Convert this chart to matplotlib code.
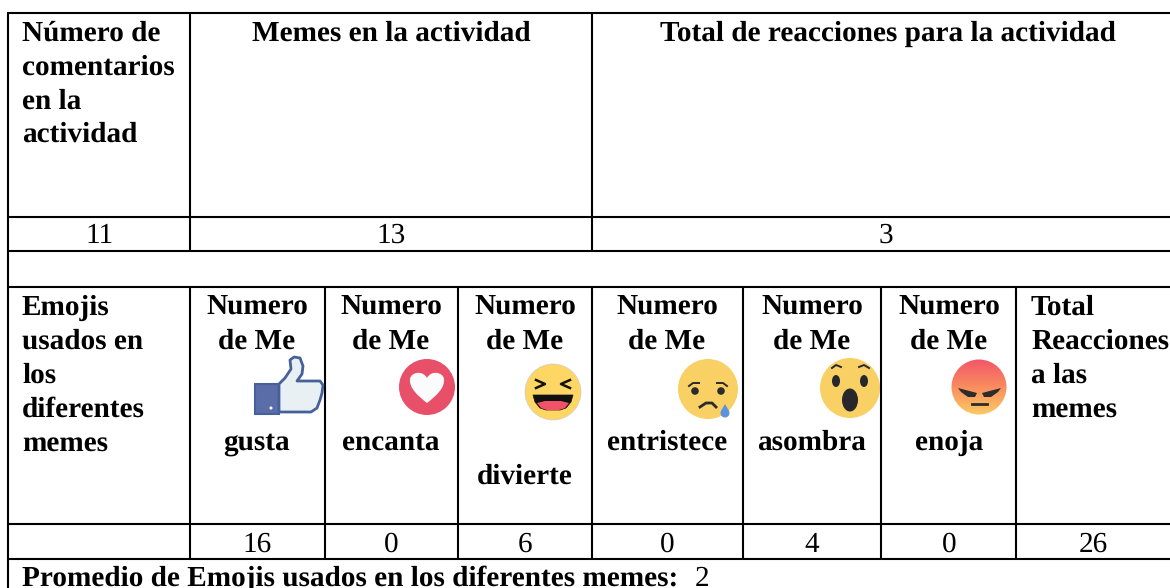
import matplotlib
matplotlib.use('Agg')
import matplotlib.pyplot as plt
from matplotlib.patches import Circle, Polygon, Ellipse, PathPatch
from matplotlib.path import Path
import numpy as np

plt.rcParams['font.family'] = ['Liberation Serif', 'DejaVu Serif']
plt.rcParams['text.hinting'] = 'no_hinting'
plt.rcParams['text.hinting_factor'] = 8

top_headers = ['Número de\ncomentarios\nen la\nactividad', 'Memes en la actividad', 'Total de reacciones para la actividad']
top_values = ['11', '13', '3']
col_headers = ['Numero\nde Me', 'Numero\nde Me', 'Numero\nde Me', 'Numero\nde Me', 'Numero\nde Me', 'Numero\nde Me']
col_words = ['gusta', 'encanta', 'divierte', 'entristece', 'asombra', 'enoja']
emoji_counts = ['16', '0', '6', '0', '4', '0']
total_reactions = '26'
footer_label = 'Promedio de Emojis usados en los diferentes memes:'
footer_value = '2'

FS = 21.1
W, H = 1170, 588

fig = plt.figure(figsize=(11.7, 5.88), dpi=100)
ax = fig.add_axes([0, 0, 1, 1])
ax.set_xlim(0, W)
ax.set_ylim(H, 0)
ax.axis('off')


def hline(y, x0=7, x1=1170):
    ax.plot([x0, x1], [y, y], color='black', lw=1.5, solid_capstyle='butt')


def vline(x, y0, y1):
    ax.plot([x, x], [y0, y1], color='black', lw=1.5, solid_capstyle='butt')


def txt(x, y, s, bold=False, ha='left'):
    ax.text(x, y, s, fontsize=FS, fontweight='bold' if bold else 'normal', ha=ha, va='baseline', color='black')


def multiline(x, y, s, ha='left', step=34):
    for i, line in enumerate(s.split('\n')):
        txt(x, y + i * step, line, bold=True, ha=ha)


# grid
for y in [13, 217, 251, 287, 524, 559]:
    hline(y)
vline(8, 13, 588)
for x in [190, 592]:
    vline(x, 13, 251)
cols = [190, 325, 458, 592, 743, 881, 1016]
for x in cols:
    vline(x, 287, 559)

# top block
multiline(22, 41, top_headers[0], step=33.7)
txt(391, 41, top_headers[1], bold=True, ha='center')
txt(888, 41, top_headers[2], bold=True, ha='center')
txt(99, 243, top_values[0], ha='center')
txt(391, 243, top_values[1], ha='center')
txt(886, 243, top_values[2], ha='center')

# lower block
multiline(22, 315, 'Emojis\nusados en\nlos\ndiferentes\nmemes')
centers = [257, 391, 525, 667, 812, 949]
word_y = [450, 450, 484, 450, 450, 450]
for c, head, word, wy, n in zip(centers, col_headers, col_words, word_y, emoji_counts):
    multiline(c, 315, head, ha='center')
    txt(c, wy, word, bold=True, ha='center')
    txt(c, 552, n, ha='center')
multiline(1031, 315, 'Total\nReacciones\na las\nmemes')
txt(1093, 552, total_reactions, ha='center')

ax.text(22, 586, footer_label, fontsize=FS, fontweight='bold', ha='left', va='baseline')
txt(695, 586, footer_value, ha='left')

# thumb
ax.add_patch(Polygon([(255, 384), (279, 384), (279, 414), (255, 414)], fc='#5b6da8', ec='#46609a', lw=1.5, zorder=3))
ax.add_patch(Circle((271, 408), 1.5, fc='white', ec='none', zorder=4))
hand = [(279, 384), (285, 378), (291, 369), (290, 360), (294, 357), (300, 358), (303, 366), (302, 374), (297, 381),
        (320, 381), (323, 385), (322, 393), (320, 400), (317, 408), (311, 412), (279, 412)]
ax.add_patch(Polygon(hand, fc='#e9f0f3', ec='#46609a', lw=2, zorder=3, joinstyle='round'))

# heart
ax.add_patch(Circle((427, 387), 28, fc='#e8506a', ec='none'))
heart = Path([(427, 403), (418, 396), (409, 388), (410, 379), (411, 372), (423, 370), (427, 378),
              (431, 370), (443, 372), (444, 379), (445, 388), (436, 396), (427, 403)],
             [Path.MOVETO] + [Path.CURVE4] * 12)
ax.add_patch(PathPatch(heart, fc='#fbfbfb', ec='none', zorder=3))

# laughing
ax.add_patch(Circle((553, 392), 28, fc='#fdd663', ec='#cfcfcf', lw=0.5))
ax.plot([536, 545, 536], [380, 384, 388], color='#111111', lw=1.8, zorder=3)
ax.plot([570, 561, 570], [380, 384, 388], color='#111111', lw=1.8, zorder=3)
mouth = [(533, 395), (573, 395), (571, 402), (566, 408), (560, 410), (546, 410), (540, 408), (535, 402)]
ax.add_patch(Polygon(mouth, fc='#111111', ec='#111111', lw=0.5, zorder=3))
tongue = [(537, 403), (545, 401), (561, 401), (569, 403), (565, 408), (559, 410), (547, 410), (541, 408)]
ax.add_patch(Polygon(tongue, fc='#f25268', ec='none', zorder=4))

# sad
ax.add_patch(Circle((708, 389), 30, fc='#f8d064', ec='none'))
for ex in [695, 721]:
    ax.add_patch(Circle((ex, 391), 3.8, fc='#2b2b2b', ec='none', zorder=3))
ax.plot([689, 693, 699], [386, 383, 383], color='#2b2b2b', lw=1.4, zorder=3)
ax.plot([727, 723, 717], [386, 383, 383], color='#2b2b2b', lw=1.4, zorder=3)
ax.plot([700, 706, 712, 716], [407, 403, 403, 407], color='#2b2b2b', lw=2, zorder=3)
ax.add_patch(Circle((725, 413), 4.5, fc='#5b93e0', ec='none', zorder=4))
ax.add_patch(Polygon([(721, 411), (725, 404), (729, 411)], fc='#5b93e0', ec='none', zorder=4))

# wow
ax.add_patch(Circle((850, 388), 30, fc='#f8d064', ec='none'))
for ex in [836, 864]:
    ax.add_patch(Ellipse((ex, 381), 8, 12, fc='#26282c', ec='none', zorder=3))
ax.plot([832, 836, 841], [368, 365, 367], color='#26282c', lw=1.4, zorder=3)
ax.plot([859, 864, 869], [367, 365, 368], color='#26282c', lw=1.4, zorder=3)
ax.add_patch(Ellipse((850, 400), 16, 23, fc='#26282c', ec='none', zorder=3))

# angry, gradient clipped to the circle
grad = np.linspace(0, 1, 64).reshape(-1, 1)
cmap = matplotlib.colors.LinearSegmentedColormap.from_list('angry', ['#f2556a', '#f98d5f', '#fbca64'])
im = ax.imshow(grad, extent=(951, 1007, 415, 359), cmap=cmap, aspect='auto', zorder=2)
clip = Circle((979, 387), 27.5, transform=ax.transData)
im.set_clip_path(clip)
ax.set_xlim(0, W)
ax.set_ylim(H, 0)
ax.add_patch(Polygon([(958, 388), (977, 393), (975, 397), (968, 397), (961, 392)], fc='#2c2c2c', ec='none', zorder=3))
ax.add_patch(Polygon([(1001, 388), (982, 393), (984, 397), (991, 397), (998, 392)], fc='#2c2c2c', ec='none', zorder=3))
ax.plot([972, 987], [404, 404], color='#2c2c2c', lw=2, zorder=3)

fig.savefig('out.png', dpi=100)
